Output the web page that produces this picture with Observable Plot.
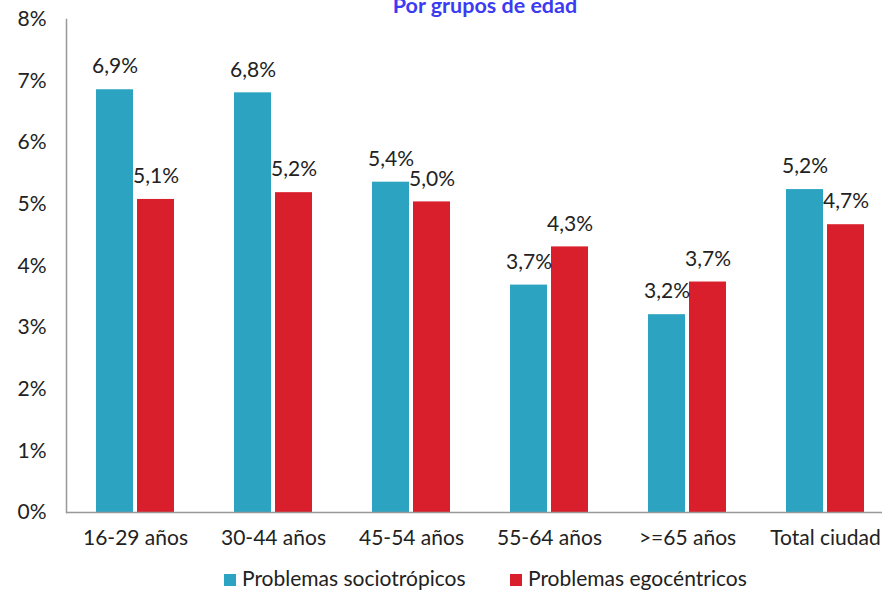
<!DOCTYPE html>
<html><head><meta charset="utf-8">
<script src="https://cdn.jsdelivr.net/npm/d3@7"></script>
<script src="https://cdn.jsdelivr.net/npm/@observablehq/plot@0.6"></script>
<style>
html,body{margin:0;padding:0;background:#fff;overflow:hidden;width:882px;height:590px;font-family:Lato,sans-serif;}
#wrap{position:relative;width:882px;height:590px;}
#title{position:absolute;left:0;width:970px;top:-5px;line-height:21.5px;text-align:center;font-weight:bold;font-size:21.5px;color:#3b3bf2;z-index:2;}
#chart{position:absolute;left:0;top:0;}
#chart svg{max-width:none !important;}
#legend{position:absolute;top:566px;left:0;width:882px;height:24px;font-size:21px;line-height:24px;color:#222;}
#legend .item{position:absolute;top:0;white-space:nowrap;}
#legend span.sw{display:inline-block;width:12px;height:12px;margin-right:6px;vertical-align:0px;}
</style></head>
<body><div id="wrap"><div id="chart"></div><div id="title">Por grupos de edad</div><div id="legend"></div></div>
<script>
const groups = ["16-29 años","30-44 años","45-54 años","55-64 años",">=65 años","Total ciudad"];
const series = ["Problemas sociotrópicos","Problemas egocéntricos"];
const sociotropicos = [6.86, 6.81, 5.36, 3.69, 3.21, 5.24];
const egocentricos = [5.08, 5.19, 5.04, 4.31, 3.74, 4.67];
const colors = ["#2ca3c0", "#da1f2c"];
const yTicks = [0,1,2,3,4,5,6,7,8];

const data = [];
groups.forEach((g,i)=>{
  data.push({group:g, serie:series[0], value:sociotropicos[i]});
  data.push({group:g, serie:series[1], value:egocentricos[i]});
});
const fmt = v => v.toFixed(1).replace(".", ",") + "%";

const chart = Plot.plot({
  width: 895, height: 556,
  marginLeft: 64, marginRight: 0, marginTop: 19, marginBottom: 44,
  style: {fontFamily: "Lato, sans-serif", fontSize: "21px", color: "#222", background: "transparent", overflow: "visible", maxWidth: "none"},
  fx: {domain: groups, padding: 0, label: null},
  x: {domain: series, paddingInner: 0.1, paddingOuter: 0.7, axis: null},
  y: {domain: [0, 8], label: null},
  color: {domain: series, range: colors},
  marks: [
    Plot.axisY({ticks: yTicks, tickSize: 0, tickPadding: 20, tickFormat: d => d + "%", label: null, fontSize: 21}),
    Plot.axisFx({anchor: "bottom", tickSize: 0, tickPadding: 18, label: null, fontSize: 21}),
    Plot.barY(data, {fx: "group", x: "serie", y: "value", fill: "serie"}),
    Plot.text(data, {fx: "group", x: "serie", y: "value", text: d => fmt(d.value), dy: -23, fill: "#222", fontSize: 21}),
    Plot.frame({anchor: "left", facet: "super", stroke: "#999", strokeWidth: 1.5}),
    Plot.ruleY([0], {stroke: "#999", strokeWidth: 1.5})
  ]
});
document.getElementById("chart").appendChild(chart);
const lg = document.getElementById("legend");
const legendLeft = [224, 510];
series.forEach((s,i)=>{
  const d = document.createElement("div");
  d.className = "item";
  d.style.left = legendLeft[i] + "px";
  d.innerHTML = `<span class="sw" style="background:${colors[i]}"></span>${s}`;
  lg.appendChild(d);
});
</script></body></html>
